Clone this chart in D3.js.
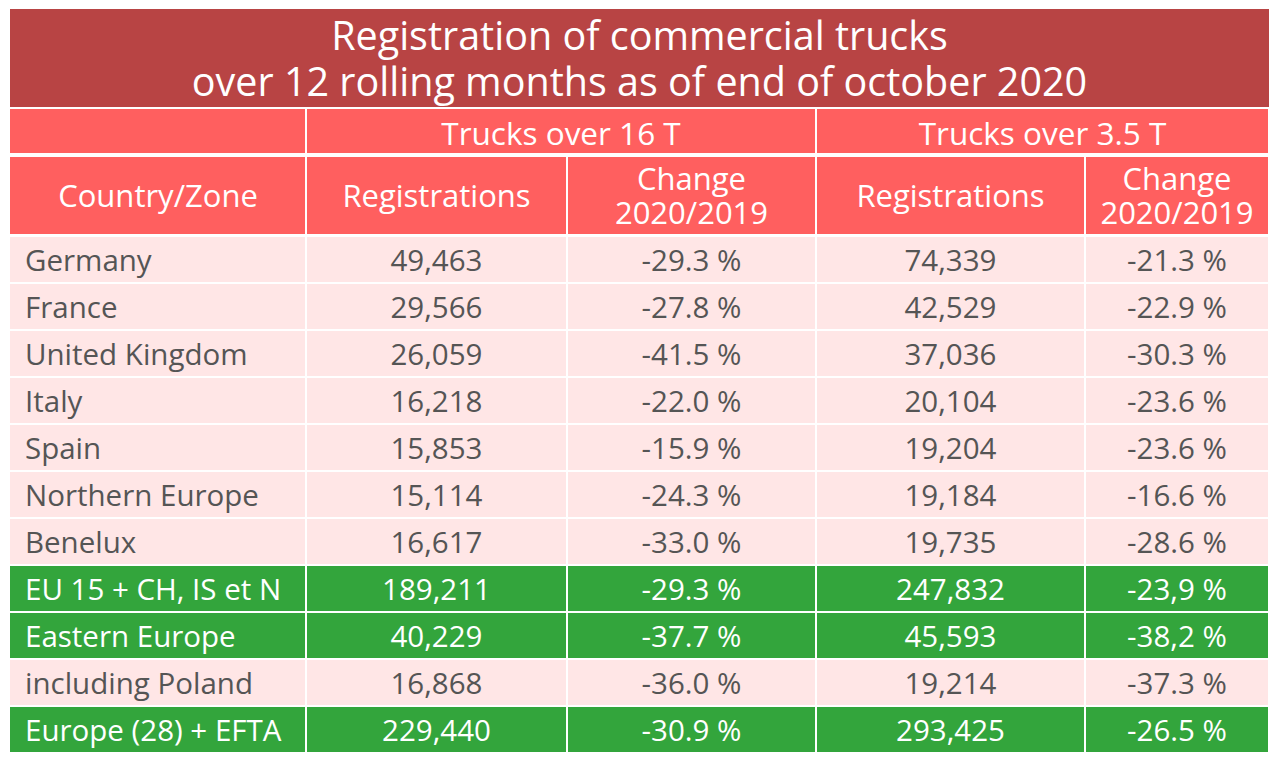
<!DOCTYPE html>
<html><head><meta charset="utf-8">
<script src="https://cdn.jsdelivr.net/npm/d3@7"></script>
<style>body{margin:0;background:#fff;}svg{display:block;font-family:"Open Sans",sans-serif;}</style>
</head><body><svg id="c" width="1280" height="764"></svg>
<script>
const titleLines = ["Registration of commercial trucks", "over 12 rolling months as of end of october 2020"];
const groupHeaders = ["Trucks over 16 T", "Trucks over 3.5 T"];
const colHeaders = [["Country/Zone"], ["Registrations"], ["Change", "2020/2019"], ["Registrations"], ["Change", "2020/2019"]];
const countries = ["Germany", "France", "United Kingdom", "Italy", "Spain", "Northern Europe", "Benelux", "EU 15 + CH, IS et N", "Eastern Europe", "including Poland", "Europe (28) + EFTA"];
const reg16 = ["49,463", "29,566", "26,059", "16,218", "15,853", "15,114", "16,617", "189,211", "40,229", "16,868", "229,440"];
const chg16 = ["-29.3 %", "-27.8 %", "-41.5 %", "-22.0 %", "-15.9 %", "-24.3 %", "-33.0 %", "-29.3 %", "-37.7 %", "-36.0 %", "-30.9 %"];
const reg35 = ["74,339", "42,529", "37,036", "20,104", "19,204", "19,184", "19,735", "247,832", "45,593", "19,214", "293,425"];
const chg35 = ["-21.3 %", "-22.9 %", "-30.3 %", "-23.6 %", "-23.6 %", "-16.6 %", "-28.6 %", "-23,9 %", "-38,2 %", "-37.3 %", "-26.5 %"];
const highlighted = [false, false, false, false, false, false, false, true, true, false, true];

const svg = d3.select("#c");
const colEdges = [10, 306, 567, 816, 1085, 1269];
const x0 = colEdges[0], x1 = colEdges[colEdges.length - 1];
const gap = 1;

// title
svg.append("rect").attr("x", x0).attr("y", 9).attr("width", x1 - x0).attr("height", 98).attr("fill", "#B84444");
const tt = svg.append("text").attr("text-anchor", "middle").attr("fill", "#fff").attr("font-size", 39.5);
tt.selectAll("tspan").data(titleLines).join("tspan")
  .attr("x", (x0 + x1) / 2).attr("y", (d, i) => 50 + i * 46).text(d => d);

const hdr = "#FF5F5F";
// header row 1
const h1y = 109, h1h = 46;
svg.append("rect").attr("x", colEdges[0]).attr("y", h1y).attr("width", colEdges[1] - colEdges[0] - gap).attr("height", h1h - 2).attr("fill", hdr);
groupHeaders.forEach((g, i) => {
  const a = colEdges[1 + i * 2], b = colEdges[3 + i * 2];
  svg.append("rect").attr("x", a + gap).attr("y", h1y).attr("width", b - a - 2 * gap).attr("height", h1h - 2).attr("fill", hdr);
  svg.append("text").attr("x", (a + b) / 2).attr("y", h1y + 36).attr("text-anchor", "middle").attr("fill", "#fff").attr("font-size", 31.5).text(g);
});
// header row 2
const h2y = 157, h2h = 78;
colHeaders.forEach((lines, i) => {
  const a = colEdges[i], b = colEdges[i + 1];
  svg.append("rect").attr("x", a + (i ? gap : 0)).attr("y", h2y).attr("width", b - a - (i ? 2 * gap : gap)).attr("height", h2h - 1).attr("fill", hdr);
  const cy = h2y + h2h / 2;
  const t = svg.append("text").attr("text-anchor", "middle").attr("fill", "#fff").attr("font-size", 31);
  lines.forEach((s, j) => {
    t.append("tspan").attr("x", (a + b) / 2).attr("y", cy + 11 + (j - (lines.length - 1) / 2) * 34).text(s);
  });
});

// data rows
const y = d3.scaleBand().domain(countries).range([237, 754]);
const cols = [countries, reg16, chg16, reg35, chg35];
countries.forEach((c, r) => {
  const fill = highlighted[r] ? "#33A53C" : "#FFE6E6";
  const tc = highlighted[r] ? "#fff" : "#555";
  cols.forEach((arr, i) => {
    const a = colEdges[i], b = colEdges[i + 1];
    svg.append("rect").attr("x", a + (i ? gap : 0)).attr("y", y(c)).attr("width", b - a - (i ? 2 * gap : gap))
      .attr("height", y.bandwidth() - 2).attr("fill", fill);
    svg.append("text").attr("x", i === 0 ? a + 15 : (a + b) / 2).attr("y", y(c) + y.bandwidth() / 2 + 10.5)
      .attr("text-anchor", i === 0 ? "start" : "middle").attr("fill", tc).attr("font-size", 29.5).text(arr[r]);
  });
});
</script></body></html>
